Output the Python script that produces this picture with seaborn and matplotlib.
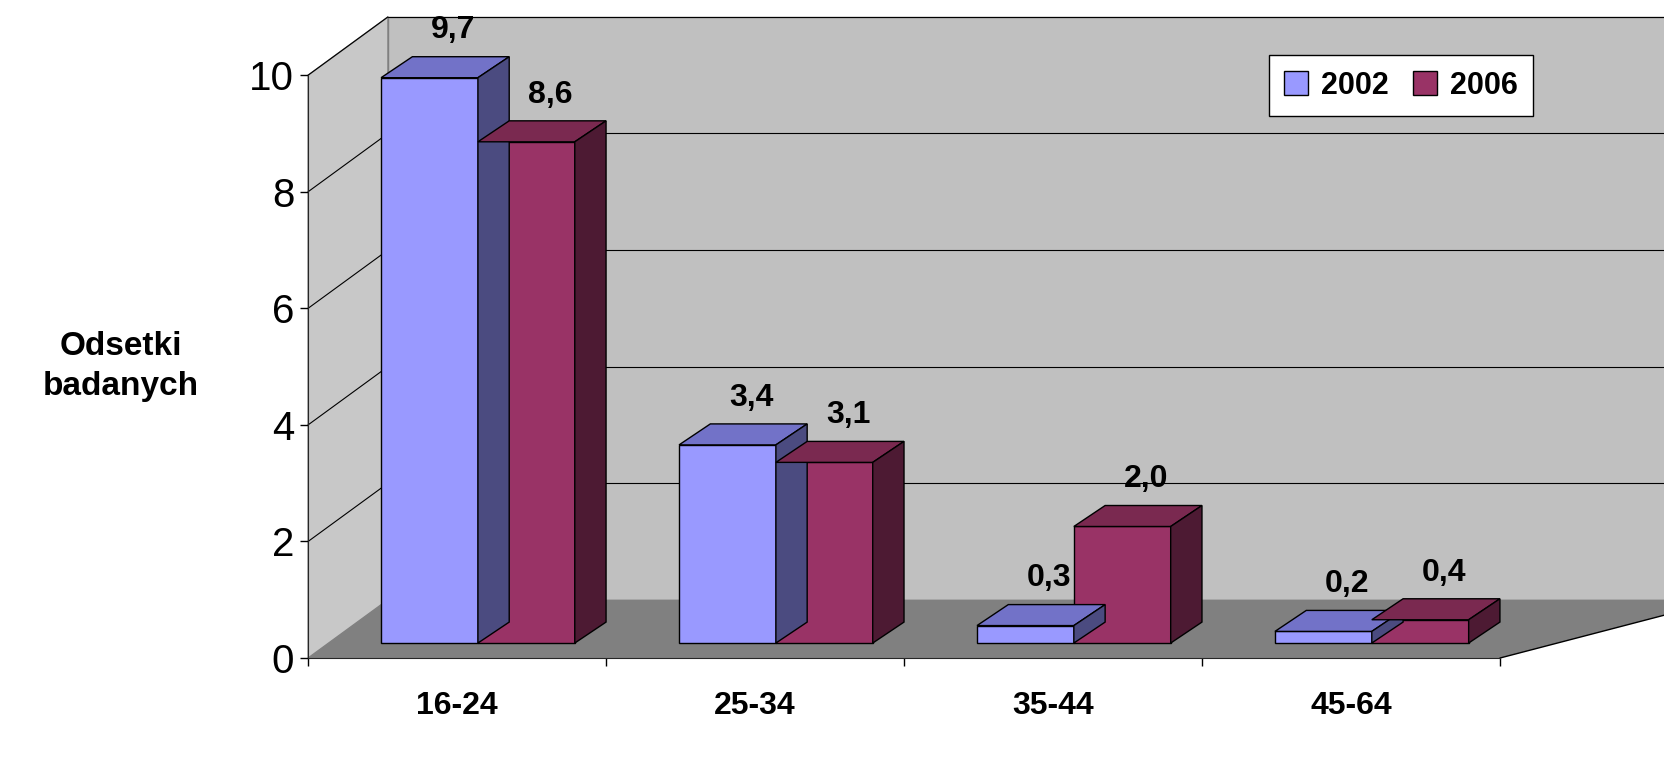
import pandas as pd
import matplotlib.pyplot as plt
import seaborn as sns
from matplotlib.patches import Polygon

# -----------------------------
# Data
# -----------------------------
age_groups = ["16-24", "25-34", "35-44", "45-64"]
years = ["2002", "2006"]
values_2002 = [9.7, 3.4, 0.3, 0.2]
values_2006 = [8.6, 3.1, 2.0, 0.4]
y_ticks = [0, 2, 4, 6, 8, 10]

df = pd.DataFrame({
    "group": age_groups * 2,
    "year": [years[0]] * 4 + [years[1]] * 4,
    "value": values_2002 + values_2006,
})

front = {"2002": "#9999FF", "2006": "#993366"}
top = {"2002": "#7272C8", "2006": "#7A2950"}
side = {"2002": "#4B4B80", "2006": "#4D1A33"}

sns.set_style("white")
plt.rcParams["font.family"] = ["Liberation Sans", "DejaVu Sans"]
plt.rcParams["text.color"] = "black"
plt.rcParams["xtick.color"] = "black"
plt.rcParams["ytick.color"] = "black"

fig = plt.figure(figsize=(16.65, 7.58), dpi=100)
ax = fig.add_axes([0, 0, 1, 1])

# 3D box: depth offsets in data units
wx, wy = 0.268, 1.0       # back wall offset
bx, by = 0.07, 0.257      # bar front plane offset
dx, dy = 0.105, 0.36      # bar depth

# walls and floor
ax.add_patch(Polygon([(-0.5 + wx, wy), (4.1, wy), (4.1, 10 + wy), (-0.5 + wx, 10 + wy)],
                     closed=True, fc="#C0C0C0", ec="#808080", lw=1, zorder=0))
ax.add_patch(Polygon([(-0.5, 0), (-0.5, 10), (-0.5 + wx, 10 + wy), (-0.5 + wx, wy)],
                     closed=True, fc="#C8C8C8", ec="#808080", lw=1, zorder=0))
ax.add_patch(Polygon([(-0.5, 0), (3.5, 0), (4.1, 0.8), (4.1, wy), (-0.5 + wx, wy)],
                     closed=True, fc="#808080", ec="none", zorder=0))
ax.plot([3.5, 4.1], [0, 0.8], color="black", lw=1, zorder=0.6)
for t in y_ticks[1:]:
    ax.plot([-0.5 + wx, 4.1], [t + wy, t + wy], color="black", lw=0.8, zorder=0.5)
    ax.plot([-0.5, -0.5 + wx], [t, t + wy], color="black", lw=0.8, zorder=0.5)

sns.barplot(data=df, x="group", y="value", hue="year", palette=front, saturation=1,
            width=0.65, edgecolor="black", linewidth=1, ax=ax, zorder=2)

# shift bars to the middle depth and add top/side faces
for container, yr in zip(ax.containers, years):
    for bar in container:
        bar.set_x(bar.get_x() + bx)
        bar.set_y(by)
        x0, w, h = bar.get_x(), bar.get_width(), bar.get_height()
        y1 = by + h
        ax.add_patch(Polygon([(x0, y1), (x0 + w, y1), (x0 + w + dx, y1 + dy), (x0 + dx, y1 + dy)],
                             closed=True, fc=top[yr], ec="black", lw=1, zorder=3))
        ax.add_patch(Polygon([(x0 + w, by), (x0 + w + dx, by + dy), (x0 + w + dx, y1 + dy), (x0 + w, y1)],
                             closed=True, fc=side[yr], ec="black", lw=1, zorder=3))
        ax.text(x0 + w / 2 + 0.08, y1 + dy + 0.45, f"{h:.1f}".replace(".", ","),
                ha="center", va="center", fontsize=23, fontweight="bold", zorder=4)

ax.set_xlim(-1.534, 4.054)
ax.set_ylim(-1.715, 11.29)

# axes
for s in ["top", "right"]:
    ax.spines[s].set_visible(False)
ax.spines["left"].set_position(("data", -0.5))
ax.spines["left"].set_bounds(0, 10)
ax.spines["bottom"].set_position(("data", 0))
ax.spines["bottom"].set_bounds(-0.5, 3.5)
ax.set_yticks(y_ticks)
ax.set_yticklabels([str(t) for t in y_ticks], fontsize=29)
ax.tick_params(axis="y", direction="out", length=6, width=1, left=True, pad=4)
ax.set_xticks([-0.5, 0.5, 1.5, 2.5, 3.5])
ax.set_xticklabels([])
ax.tick_params(axis="x", direction="out", length=6, width=1, bottom=True)
ax.set_xticks(range(4), minor=True)
ax.set_xticklabels(age_groups, minor=True, fontsize=23, fontweight="bold")
ax.tick_params(axis="x", which="minor", length=0, pad=24)
ax.set_xlabel("")
ax.set_ylabel("")
ax.text(-1.13, 5.0, "Odsetki\nbadanych", ha="center", va="center",
        fontsize=24, fontweight="bold", linespacing=1.4)

leg = ax.legend(loc="upper right", bbox_to_anchor=(1548 / 1665, 1 - 40 / 758),
                bbox_transform=fig.transFigure, ncol=2, fontsize=22, frameon=True,
                fancybox=False, edgecolor="black", handlelength=0.8, handleheight=0.8,
                columnspacing=0.8, handletextpad=0.4, borderpad=0.5)
leg.get_frame().set_facecolor("white")
leg.get_frame().set_alpha(1)
for t in leg.get_texts():
    t.set_fontweight("bold")
leg.get_frame().set_linewidth(1)

fig.savefig("out.png", dpi=100, facecolor="white")
